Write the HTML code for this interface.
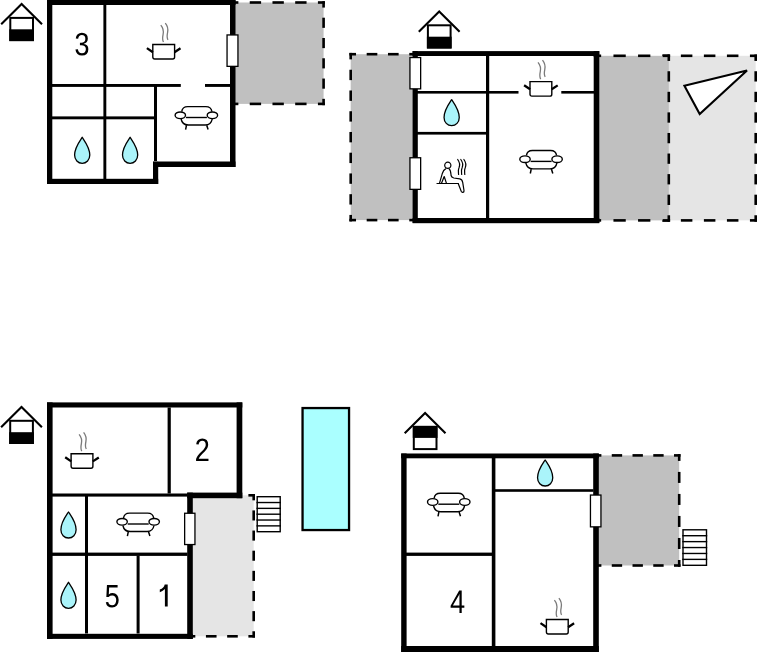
<!DOCTYPE html>
<html><head><meta charset="utf-8"><title>Floor plan</title>
<style>
html,body{margin:0;padding:0;background:#fff;}
body{width:757px;height:652px;overflow:hidden;}
svg{display:block;}
text{font-family:"Liberation Sans",sans-serif;}
</style></head>
<body>
<svg width="757" height="652" viewBox="0 0 757 652">
<rect x="0" y="0" width="757" height="652" fill="#fff"/>
<rect x="232.7" y="2.5" width="90.9" height="101.4" fill="#c0c0c0"/>
<rect x="231.4" y="1.2" width="6.98" height="2.6" fill="#000"/>
<rect x="249.74" y="1.2" width="11.36" height="2.6" fill="#000"/>
<rect x="272.47" y="1.2" width="11.36" height="2.6" fill="#000"/>
<rect x="295.19" y="1.2" width="11.36" height="2.6" fill="#000"/>
<rect x="317.92" y="1.2" width="6.98" height="2.6" fill="#000"/>
<rect x="322.3" y="1.2" width="2.6" height="6.37" fill="#000"/>
<rect x="322.3" y="17.71" width="2.6" height="10.14" fill="#000"/>
<rect x="322.3" y="37.99" width="2.6" height="10.14" fill="#000"/>
<rect x="322.3" y="58.27" width="2.6" height="10.14" fill="#000"/>
<rect x="322.3" y="78.55" width="2.6" height="10.14" fill="#000"/>
<rect x="322.3" y="98.83" width="2.6" height="6.37" fill="#000"/>
<rect x="231.4" y="102.6" width="6.98" height="2.6" fill="#000"/>
<rect x="249.74" y="102.6" width="11.36" height="2.6" fill="#000"/>
<rect x="272.47" y="102.6" width="11.36" height="2.6" fill="#000"/>
<rect x="295.19" y="102.6" width="11.36" height="2.6" fill="#000"/>
<rect x="317.92" y="102.6" width="6.98" height="2.6" fill="#000"/>
<rect x="47" y="0" width="188.5" height="5" fill="#000"/>
<rect x="47" y="0" width="5.3" height="184" fill="#000"/>
<rect x="230" y="0" width="5.5" height="167" fill="#000"/>
<rect x="153" y="161.5" width="82.5" height="5.5" fill="#000"/>
<rect x="153" y="161.8" width="5.2" height="22.2" fill="#000"/>
<rect x="47" y="178.8" width="111.2" height="5.2" fill="#000"/>
<rect x="103.4" y="5" width="2.9" height="174" fill="#000"/>
<rect x="52" y="84" width="128.8" height="2.9" fill="#000"/>
<rect x="205" y="84" width="25" height="2.9" fill="#000"/>
<rect x="52" y="116.4" width="102" height="2.9" fill="#000"/>
<rect x="154" y="86" width="3" height="75" fill="#000"/>
<rect x="227.05" y="34.95" width="10.9" height="31.4" fill="#fff" stroke="#000" stroke-width="1.3"/>
<g transform="translate(9.3,16.9)"><polyline points="-8.1,7.4 12.3,-12.9 32.7,7.4" fill="none" stroke="#000" stroke-width="2.1"/><rect x="1" y="1" width="22.7" height="22.2" fill="#fff" stroke="#000" stroke-width="2"/><rect x="0" y="12.4" width="24.7" height="11.8" fill="#000"/></g>
<path transform="translate(74.4,55.3) scale(0.01329,-0.01582)" fill="#000" d="M1049 389Q1049 194 925.0 87.0Q801 -20 571 -20Q357 -20 229.5 76.5Q102 173 78 362L264 379Q300 129 571 129Q707 129 784.5 196.0Q862 263 862 395Q862 510 773.5 574.5Q685 639 518 639H416V795H514Q662 795 743.5 859.5Q825 924 825 1038Q825 1151 758.5 1216.5Q692 1282 561 1282Q442 1282 368.5 1221.0Q295 1160 283 1049L102 1063Q122 1236 245.5 1333.0Q369 1430 563 1430Q775 1430 892.5 1331.5Q1010 1233 1010 1057Q1010 922 934.5 837.5Q859 753 715 723V719Q873 702 961.0 613.0Q1049 524 1049 389Z"/>
<g transform="translate(152.1,43.8)"><path d="M0.7,0.7 H22.5 V13.3 Q22.5,15.2 20.6,15.2 H2.6 Q0.7,15.2 0.7,13.3 Z" fill="#fff" stroke="#000" stroke-width="1.4"/><path d="M-5.2,4.3 L0.8,8.4 M28.4,4.5 L22.4,8.4" stroke="#000" stroke-width="2.3" fill="none"/><path d="M8.7,-18.6 C10.9,-16 11.6,-12.5 11.0,-9.5 C10.4,-6.5 10.0,-4 11.4,-1.8" fill="none" stroke="#7a7a7a" stroke-width="1.3"/><path d="M13.2,-20.7 C15.4,-18 16.1,-14.5 15.5,-11.5 C14.9,-8.5 14.5,-6 15.9,-4" fill="none" stroke="#7a7a7a" stroke-width="1.3"/></g>
<g transform="translate(174.3,105.9)" fill="none" stroke="#000" stroke-width="1.4"><path d="M7.4,5.7 C7.8,2.6 9.8,0.7 13.5,0.7 H31.5 C35.3,0.7 37.2,2.6 37.6,5.7"/><path d="M11.6,11.6 H32.6"/><path d="M6.8,13.1 C7.6,17.1 10.5,19.1 14,19.1 H31 C34.5,19.1 37.2,17.1 37.9,13.1"/><path d="M12.2,19.3 L11.3,23.7 M32.4,19.3 L33.8,23.7" stroke-width="1.5"/><ellipse cx="6" cy="9.4" rx="5.2" ry="3.35" fill="#fff"/><ellipse cx="38.1" cy="9.4" rx="5.2" ry="3.35" fill="#fff"/></g>
<g transform="translate(82.2,136.5)"><path d="M0,0.8 C2.2,4.2 7.6,11 7.6,18.6 C7.6,23.4 4.2,26.8 0,26.8 C-4.2,26.8 -7.6,23.4 -7.6,18.6 C-7.6,11 -2.2,4.2 0,0.8 Z" fill="#aaf4fa" stroke="#000" stroke-width="1.3" stroke-linejoin="round"/></g>
<g transform="translate(130.1,136.5)"><path d="M0,0.8 C2.2,4.2 7.6,11 7.6,18.6 C7.6,23.4 4.2,26.8 0,26.8 C-4.2,26.8 -7.6,23.4 -7.6,18.6 C-7.6,11 -2.2,4.2 0,0.8 Z" fill="#aaf4fa" stroke="#000" stroke-width="1.3" stroke-linejoin="round"/></g>
<rect x="350.7" y="54.2" width="63.9" height="165.9" fill="#c0c0c0"/>
<rect x="349.4" y="52.9" width="6.62" height="2.6" fill="#000"/>
<rect x="366.68" y="52.9" width="10.65" height="2.6" fill="#000"/>
<rect x="387.98" y="52.9" width="10.65" height="2.6" fill="#000"/>
<rect x="409.28" y="52.9" width="6.62" height="2.6" fill="#000"/>
<rect x="349.4" y="218.8" width="6.62" height="2.6" fill="#000"/>
<rect x="366.68" y="218.8" width="10.65" height="2.6" fill="#000"/>
<rect x="387.98" y="218.8" width="10.65" height="2.6" fill="#000"/>
<rect x="409.28" y="218.8" width="6.62" height="2.6" fill="#000"/>
<rect x="349.4" y="52.9" width="2.6" height="6.48" fill="#000"/>
<rect x="349.4" y="69.75" width="2.6" height="10.37" fill="#000"/>
<rect x="349.4" y="90.49" width="2.6" height="10.37" fill="#000"/>
<rect x="349.4" y="111.23" width="2.6" height="10.37" fill="#000"/>
<rect x="349.4" y="131.97" width="2.6" height="10.37" fill="#000"/>
<rect x="349.4" y="152.7" width="2.6" height="10.37" fill="#000"/>
<rect x="349.4" y="173.44" width="2.6" height="10.37" fill="#000"/>
<rect x="349.4" y="194.18" width="2.6" height="10.37" fill="#000"/>
<rect x="349.4" y="214.92" width="2.6" height="6.48" fill="#000"/>
<rect x="663.6" y="55.8" width="92.1" height="164.6" fill="#e5e5e5"/>
<rect x="662.3" y="54.5" width="7.06" height="2.6" fill="#000"/>
<rect x="680.87" y="54.5" width="11.51" height="2.6" fill="#000"/>
<rect x="703.89" y="54.5" width="11.51" height="2.6" fill="#000"/>
<rect x="726.92" y="54.5" width="11.51" height="2.6" fill="#000"/>
<rect x="749.94" y="54.5" width="7.06" height="2.6" fill="#000"/>
<rect x="754.4" y="54.5" width="2.6" height="6.44" fill="#000"/>
<rect x="754.4" y="71.23" width="2.6" height="10.29" fill="#000"/>
<rect x="754.4" y="91.81" width="2.6" height="10.29" fill="#000"/>
<rect x="754.4" y="112.38" width="2.6" height="10.29" fill="#000"/>
<rect x="754.4" y="132.96" width="2.6" height="10.29" fill="#000"/>
<rect x="754.4" y="153.53" width="2.6" height="10.29" fill="#000"/>
<rect x="754.4" y="174.11" width="2.6" height="10.29" fill="#000"/>
<rect x="754.4" y="194.68" width="2.6" height="10.29" fill="#000"/>
<rect x="754.4" y="215.26" width="2.6" height="6.44" fill="#000"/>
<rect x="662.3" y="219.1" width="7.06" height="2.6" fill="#000"/>
<rect x="680.87" y="219.1" width="11.51" height="2.6" fill="#000"/>
<rect x="703.89" y="219.1" width="11.51" height="2.6" fill="#000"/>
<rect x="726.92" y="219.1" width="11.51" height="2.6" fill="#000"/>
<rect x="749.94" y="219.1" width="7.06" height="2.6" fill="#000"/>
<rect x="595" y="55.8" width="73.8" height="164.6" fill="#c0c0c0"/>
<rect x="593.7" y="54.5" width="7.45" height="2.6" fill="#000"/>
<rect x="613.45" y="54.5" width="12.3" height="2.6" fill="#000"/>
<rect x="638.05" y="54.5" width="12.3" height="2.6" fill="#000"/>
<rect x="662.65" y="54.5" width="7.45" height="2.6" fill="#000"/>
<rect x="667.5" y="54.5" width="2.6" height="6.44" fill="#000"/>
<rect x="667.5" y="71.23" width="2.6" height="10.29" fill="#000"/>
<rect x="667.5" y="91.81" width="2.6" height="10.29" fill="#000"/>
<rect x="667.5" y="112.38" width="2.6" height="10.29" fill="#000"/>
<rect x="667.5" y="132.96" width="2.6" height="10.29" fill="#000"/>
<rect x="667.5" y="153.53" width="2.6" height="10.29" fill="#000"/>
<rect x="667.5" y="174.11" width="2.6" height="10.29" fill="#000"/>
<rect x="667.5" y="194.68" width="2.6" height="10.29" fill="#000"/>
<rect x="667.5" y="215.26" width="2.6" height="6.44" fill="#000"/>
<rect x="593.7" y="219.1" width="7.45" height="2.6" fill="#000"/>
<rect x="613.45" y="219.1" width="12.3" height="2.6" fill="#000"/>
<rect x="638.05" y="219.1" width="12.3" height="2.6" fill="#000"/>
<rect x="662.65" y="219.1" width="7.45" height="2.6" fill="#000"/>
<rect x="412.6" y="51.1" width="186.7" height="4.9" fill="#000"/>
<rect x="412.6" y="218" width="186.7" height="5.2" fill="#000"/>
<rect x="412.6" y="51.1" width="5.2" height="171.8" fill="#000"/>
<rect x="593.7" y="51.1" width="5.6" height="171.8" fill="#000"/>
<rect x="486" y="56" width="3.2" height="162" fill="#000"/>
<rect x="417" y="91" width="101.5" height="2.6" fill="#000"/>
<rect x="561.3" y="91" width="32.7" height="2.6" fill="#000"/>
<rect x="417" y="131.9" width="69.5" height="2.7" fill="#000"/>
<rect x="409.95" y="57.55" width="10.7" height="31.3" fill="#fff" stroke="#000" stroke-width="1.3"/>
<rect x="409.95" y="157.75" width="10.7" height="31.6" fill="#fff" stroke="#000" stroke-width="1.3"/>
<g transform="translate(426.9,24.3)"><polyline points="-8.1,7.4 12.3,-12.9 32.7,7.4" fill="none" stroke="#000" stroke-width="2.1"/><rect x="1" y="1" width="22.7" height="22.2" fill="#fff" stroke="#000" stroke-width="2"/><rect x="0" y="12.4" width="24.7" height="11.8" fill="#000"/></g>
<g transform="translate(529.3,80.9)"><path d="M0.7,0.7 H22.5 V13.3 Q22.5,15.2 20.6,15.2 H2.6 Q0.7,15.2 0.7,13.3 Z" fill="#fff" stroke="#000" stroke-width="1.4"/><path d="M-5.2,4.3 L0.8,8.4 M28.4,4.5 L22.4,8.4" stroke="#000" stroke-width="2.3" fill="none"/><path d="M8.7,-18.6 C10.9,-16 11.6,-12.5 11.0,-9.5 C10.4,-6.5 10.0,-4 11.4,-1.8" fill="none" stroke="#7a7a7a" stroke-width="1.3"/><path d="M13.2,-20.7 C15.4,-18 16.1,-14.5 15.5,-11.5 C14.9,-8.5 14.5,-6 15.9,-4" fill="none" stroke="#7a7a7a" stroke-width="1.3"/></g>
<g transform="translate(519,149.8)" fill="none" stroke="#000" stroke-width="1.4"><path d="M7.4,5.7 C7.8,2.6 9.8,0.7 13.5,0.7 H31.5 C35.3,0.7 37.2,2.6 37.6,5.7"/><path d="M11.6,11.6 H32.6"/><path d="M6.8,13.1 C7.6,17.1 10.5,19.1 14,19.1 H31 C34.5,19.1 37.2,17.1 37.9,13.1"/><path d="M12.2,19.3 L11.3,23.7 M32.4,19.3 L33.8,23.7" stroke-width="1.5"/><ellipse cx="6" cy="9.4" rx="5.2" ry="3.35" fill="#fff"/><ellipse cx="38.1" cy="9.4" rx="5.2" ry="3.35" fill="#fff"/></g>
<g transform="translate(451.65,98.9)"><path d="M0,0.8 C2.2,4.2 7.6,11 7.6,18.6 C7.6,23.4 4.2,26.8 0,26.8 C-4.2,26.8 -7.6,23.4 -7.6,18.6 C-7.6,11 -2.2,4.2 0,0.8 Z" fill="#aaf4fa" stroke="#000" stroke-width="1.3" stroke-linejoin="round"/></g>
<g transform="translate(447.8,165.3)" fill="none" stroke="#000" stroke-width="1.2" stroke-linecap="round" stroke-linejoin="round"><circle cx="0" cy="0" r="3.1"/><path d="M-2.2,3.6 C-4,4.4 -4.8,6 -5.6,8.5 L-8.2,17.6"/><path d="M-6.4,18.2 L-3.6,11.2 L-1.4,17.8"/><path d="M1.4,3.8 C3,5 3,7.5 3.3,10.4 C3.5,11.8 4.3,12.3 6,12.7 L12,13.6 C13.8,14 14.6,15.2 14.9,17 L16.2,25.2 C16.5,27.2 14.2,27.8 13.4,26 L10.4,18.2"/><path d="M-10.8,18.2 H10.4"/><path d="M9.9,-5.8 C12.4,-2.5 12.4,-0.5 11.2,2.5 C10,5 10.6,7 10.8,9.2"/><path d="M13,-5.8 C15.5,-2.5 15.5,-0.5 14.3,2.5 C13.1,5 13.7,7 13.9,9.2"/><path d="M16.1,-5.8 C18.6,-2.5 18.6,-0.5 17.4,2.5 C16.2,5 16.8,7 17,9.2"/></g>
<polygon points="684.4,85.8 747.0,70.5 699.7,114.0" fill="#fff" stroke="#000" stroke-width="2.1" stroke-linejoin="miter"/>
<rect x="190" y="495.3" width="63.7" height="141" fill="#e5e5e5"/>
<rect x="188.7" y="494" width="6.61" height="2.6" fill="#000"/>
<rect x="205.93" y="494" width="10.62" height="2.6" fill="#000"/>
<rect x="227.16" y="494" width="10.62" height="2.6" fill="#000"/>
<rect x="248.39" y="494" width="6.61" height="2.6" fill="#000"/>
<rect x="252.4" y="494" width="2.6" height="6.34" fill="#000"/>
<rect x="252.4" y="510.41" width="2.6" height="10.07" fill="#000"/>
<rect x="252.4" y="530.55" width="2.6" height="10.07" fill="#000"/>
<rect x="252.4" y="550.69" width="2.6" height="10.07" fill="#000"/>
<rect x="252.4" y="570.84" width="2.6" height="10.07" fill="#000"/>
<rect x="252.4" y="590.98" width="2.6" height="10.07" fill="#000"/>
<rect x="252.4" y="611.12" width="2.6" height="10.07" fill="#000"/>
<rect x="252.4" y="631.26" width="2.6" height="6.34" fill="#000"/>
<rect x="188.7" y="635" width="6.61" height="2.6" fill="#000"/>
<rect x="205.93" y="635" width="10.62" height="2.6" fill="#000"/>
<rect x="227.16" y="635" width="10.62" height="2.6" fill="#000"/>
<rect x="248.39" y="635" width="6.61" height="2.6" fill="#000"/>
<rect x="302.55" y="408.05" width="46.5" height="122" fill="#aaffff" stroke="#000" stroke-width="2.3"/>
<rect x="257.2" y="496.7" width="23" height="35" fill="#fff" stroke="#000" stroke-width="1.4"/>
<line x1="256.5" y1="502.53" x2="280.9" y2="502.53" stroke="#000" stroke-width="1.4"/>
<line x1="256.5" y1="508.37" x2="280.9" y2="508.37" stroke="#000" stroke-width="1.4"/>
<line x1="256.5" y1="514.2" x2="280.9" y2="514.2" stroke="#000" stroke-width="1.4"/>
<line x1="256.5" y1="520.03" x2="280.9" y2="520.03" stroke="#000" stroke-width="1.4"/>
<line x1="256.5" y1="525.87" x2="280.9" y2="525.87" stroke="#000" stroke-width="1.4"/>
<rect x="47" y="402.4" width="195.3" height="5.1" fill="#000"/>
<rect x="47" y="402.4" width="5.6" height="236.5" fill="#000"/>
<rect x="236.6" y="402.4" width="5.7" height="95.8" fill="#000"/>
<rect x="187.2" y="492.6" width="55.1" height="5.6" fill="#000"/>
<rect x="187.2" y="492.6" width="5.6" height="146.3" fill="#000"/>
<rect x="47" y="633.8" width="145.8" height="5.1" fill="#000"/>
<rect x="167.6" y="407.5" width="3.2" height="86" fill="#000"/>
<rect x="52" y="493.5" width="135.5" height="3.1" fill="#000"/>
<rect x="85" y="496" width="3" height="137.5" fill="#000"/>
<rect x="52" y="552.6" width="135.5" height="3.3" fill="#000"/>
<rect x="136.6" y="555.5" width="3" height="78" fill="#000"/>
<rect x="184.65" y="513.25" width="10.3" height="31.3" fill="#fff" stroke="#000" stroke-width="1.3"/>
<g transform="translate(9.2,419.8)"><polyline points="-8.1,7.4 12.3,-12.9 32.7,7.4" fill="none" stroke="#000" stroke-width="2.1"/><rect x="1" y="1" width="22.7" height="22.2" fill="#fff" stroke="#000" stroke-width="2"/><rect x="0" y="12.4" width="24.7" height="11.8" fill="#000"/></g>
<path transform="translate(194.7,461.1) scale(0.01329,-0.01582)" fill="#000" d="M103 0V127Q154 244 227.5 333.5Q301 423 382.0 495.5Q463 568 542.5 630.0Q622 692 686.0 754.0Q750 816 789.5 884.0Q829 952 829 1038Q829 1154 761.0 1218.0Q693 1282 572 1282Q457 1282 382.5 1219.5Q308 1157 295 1044L111 1061Q131 1230 254.5 1330.0Q378 1430 572 1430Q785 1430 899.5 1329.5Q1014 1229 1014 1044Q1014 962 976.5 881.0Q939 800 865.0 719.0Q791 638 582 468Q467 374 399.0 298.5Q331 223 301 153H1036V0Z"/>
<path transform="translate(104.7,607.3) scale(0.01329,-0.01582)" fill="#000" d="M1053 459Q1053 236 920.5 108.0Q788 -20 553 -20Q356 -20 235.0 66.0Q114 152 82 315L264 336Q321 127 557 127Q702 127 784.0 214.5Q866 302 866 455Q866 588 783.5 670.0Q701 752 561 752Q488 752 425.0 729.0Q362 706 299 651H123L170 1409H971V1256H334L307 809Q424 899 598 899Q806 899 929.5 777.0Q1053 655 1053 459Z"/>
<path d="M164.7,584.6 H167.7 V606.5 H164.9 V588.9 Q162.4,591.2 159.8,592.2 V589.6 Q164,588.2 164.7,584.6 Z" fill="#000"/>
<g transform="translate(70.4,453)"><path d="M0.7,0.7 H22.5 V13.3 Q22.5,15.2 20.6,15.2 H2.6 Q0.7,15.2 0.7,13.3 Z" fill="#fff" stroke="#000" stroke-width="1.4"/><path d="M-5.2,4.3 L0.8,8.4 M28.4,4.5 L22.4,8.4" stroke="#000" stroke-width="2.3" fill="none"/><path d="M8.7,-18.6 C10.9,-16 11.6,-12.5 11.0,-9.5 C10.4,-6.5 10.0,-4 11.4,-1.8" fill="none" stroke="#7a7a7a" stroke-width="1.3"/><path d="M13.2,-20.7 C15.4,-18 16.1,-14.5 15.5,-11.5 C14.9,-8.5 14.5,-6 15.9,-4" fill="none" stroke="#7a7a7a" stroke-width="1.3"/></g>
<g transform="translate(116.1,512.4)" fill="none" stroke="#000" stroke-width="1.4"><path d="M7.4,5.7 C7.8,2.6 9.8,0.7 13.5,0.7 H31.5 C35.3,0.7 37.2,2.6 37.6,5.7"/><path d="M11.6,11.6 H32.6"/><path d="M6.8,13.1 C7.6,17.1 10.5,19.1 14,19.1 H31 C34.5,19.1 37.2,17.1 37.9,13.1"/><path d="M12.2,19.3 L11.3,23.7 M32.4,19.3 L33.8,23.7" stroke-width="1.5"/><ellipse cx="6" cy="9.4" rx="5.2" ry="3.35" fill="#fff"/><ellipse cx="38.1" cy="9.4" rx="5.2" ry="3.35" fill="#fff"/></g>
<g transform="translate(68.5,511.2)"><path d="M0,0.8 C2.2,4.2 7.6,11 7.6,18.6 C7.6,23.4 4.2,26.8 0,26.8 C-4.2,26.8 -7.6,23.4 -7.6,18.6 C-7.6,11 -2.2,4.2 0,0.8 Z" fill="#aaf4fa" stroke="#000" stroke-width="1.3" stroke-linejoin="round"/></g>
<g transform="translate(68.5,581.5)"><path d="M0,0.8 C2.2,4.2 7.6,11 7.6,18.6 C7.6,23.4 4.2,26.8 0,26.8 C-4.2,26.8 -7.6,23.4 -7.6,18.6 C-7.6,11 -2.2,4.2 0,0.8 Z" fill="#aaf4fa" stroke="#000" stroke-width="1.3" stroke-linejoin="round"/></g>
<rect x="596.2" y="455.4" width="83" height="110.1" fill="#c0c0c0"/>
<rect x="594.9" y="454.1" width="6.49" height="2.6" fill="#000"/>
<rect x="611.76" y="454.1" width="10.38" height="2.6" fill="#000"/>
<rect x="632.51" y="454.1" width="10.38" height="2.6" fill="#000"/>
<rect x="653.26" y="454.1" width="10.38" height="2.6" fill="#000"/>
<rect x="674.01" y="454.1" width="6.49" height="2.6" fill="#000"/>
<rect x="677.9" y="454.1" width="2.6" height="6.81" fill="#000"/>
<rect x="677.9" y="471.91" width="2.6" height="11.01" fill="#000"/>
<rect x="677.9" y="493.94" width="2.6" height="11.01" fill="#000"/>
<rect x="677.9" y="515.95" width="2.6" height="11.01" fill="#000"/>
<rect x="677.9" y="537.98" width="2.6" height="11.01" fill="#000"/>
<rect x="677.9" y="560" width="2.6" height="6.8" fill="#000"/>
<rect x="594.9" y="564.2" width="6.49" height="2.6" fill="#000"/>
<rect x="611.76" y="564.2" width="10.38" height="2.6" fill="#000"/>
<rect x="632.51" y="564.2" width="10.38" height="2.6" fill="#000"/>
<rect x="653.26" y="564.2" width="10.38" height="2.6" fill="#000"/>
<rect x="674.01" y="564.2" width="6.49" height="2.6" fill="#000"/>
<rect x="683" y="529.8" width="23.5" height="35.5" fill="#fff" stroke="#000" stroke-width="1.4"/>
<line x1="682.3" y1="535.72" x2="707.2" y2="535.72" stroke="#000" stroke-width="1.4"/>
<line x1="682.3" y1="541.63" x2="707.2" y2="541.63" stroke="#000" stroke-width="1.4"/>
<line x1="682.3" y1="547.55" x2="707.2" y2="547.55" stroke="#000" stroke-width="1.4"/>
<line x1="682.3" y1="553.47" x2="707.2" y2="553.47" stroke="#000" stroke-width="1.4"/>
<line x1="682.3" y1="559.38" x2="707.2" y2="559.38" stroke="#000" stroke-width="1.4"/>
<rect x="401.2" y="453.5" width="197.6" height="4.8" fill="#000"/>
<rect x="401.2" y="453.5" width="5.4" height="198.5" fill="#000"/>
<rect x="593.2" y="453.5" width="5.6" height="198.5" fill="#000"/>
<rect x="401.2" y="646" width="197.6" height="6" fill="#000"/>
<rect x="491.8" y="458" width="3.6" height="188" fill="#000"/>
<rect x="406" y="552.6" width="86" height="3.3" fill="#000"/>
<rect x="495" y="489.2" width="98.5" height="2.6" fill="#000"/>
<rect x="590.45" y="495.05" width="10.5" height="31.8" fill="#fff" stroke="#000" stroke-width="1.3"/>
<g transform="translate(412.8,425.9)"><polyline points="-8.1,7.4 12.3,-12.9 32.7,7.4" fill="none" stroke="#000" stroke-width="2.1"/><rect x="1" y="1" width="22.7" height="22.2" fill="#fff" stroke="#000" stroke-width="2"/><rect x="0" y="0" width="24.7" height="12.0" fill="#000"/></g>
<path transform="translate(450,612.9) scale(0.01329,-0.01582)" fill="#000" d="M881 319V0H711V319H47V459L692 1409H881V461H1079V319ZM711 1206Q709 1200 683.0 1153.0Q657 1106 644 1087L283 555L229 481L213 461H711Z"/>
<g transform="translate(545.7,618.8)"><path d="M0.7,0.7 H22.5 V13.3 Q22.5,15.2 20.6,15.2 H2.6 Q0.7,15.2 0.7,13.3 Z" fill="#fff" stroke="#000" stroke-width="1.4"/><path d="M-5.2,4.3 L0.8,8.4 M28.4,4.5 L22.4,8.4" stroke="#000" stroke-width="2.3" fill="none"/><path d="M8.7,-18.6 C10.9,-16 11.6,-12.5 11.0,-9.5 C10.4,-6.5 10.0,-4 11.4,-1.8" fill="none" stroke="#7a7a7a" stroke-width="1.3"/><path d="M13.2,-20.7 C15.4,-18 16.1,-14.5 15.5,-11.5 C14.9,-8.5 14.5,-6 15.9,-4" fill="none" stroke="#7a7a7a" stroke-width="1.3"/></g>
<g transform="translate(426.7,492.6)" fill="none" stroke="#000" stroke-width="1.4"><path d="M7.4,5.7 C7.8,2.6 9.8,0.7 13.5,0.7 H31.5 C35.3,0.7 37.2,2.6 37.6,5.7"/><path d="M11.6,11.6 H32.6"/><path d="M6.8,13.1 C7.6,17.1 10.5,19.1 14,19.1 H31 C34.5,19.1 37.2,17.1 37.9,13.1"/><path d="M12.2,19.3 L11.3,23.7 M32.4,19.3 L33.8,23.7" stroke-width="1.5"/><ellipse cx="6" cy="9.4" rx="5.2" ry="3.35" fill="#fff"/><ellipse cx="38.1" cy="9.4" rx="5.2" ry="3.35" fill="#fff"/></g>
<g transform="translate(545.15,459.2)"><path d="M0,0.8 C2.2,4.2 7.6,11 7.6,18.6 C7.6,23.4 4.2,26.8 0,26.8 C-4.2,26.8 -7.6,23.4 -7.6,18.6 C-7.6,11 -2.2,4.2 0,0.8 Z" fill="#aaf4fa" stroke="#000" stroke-width="1.3" stroke-linejoin="round"/></g>
</svg>
</body></html>
